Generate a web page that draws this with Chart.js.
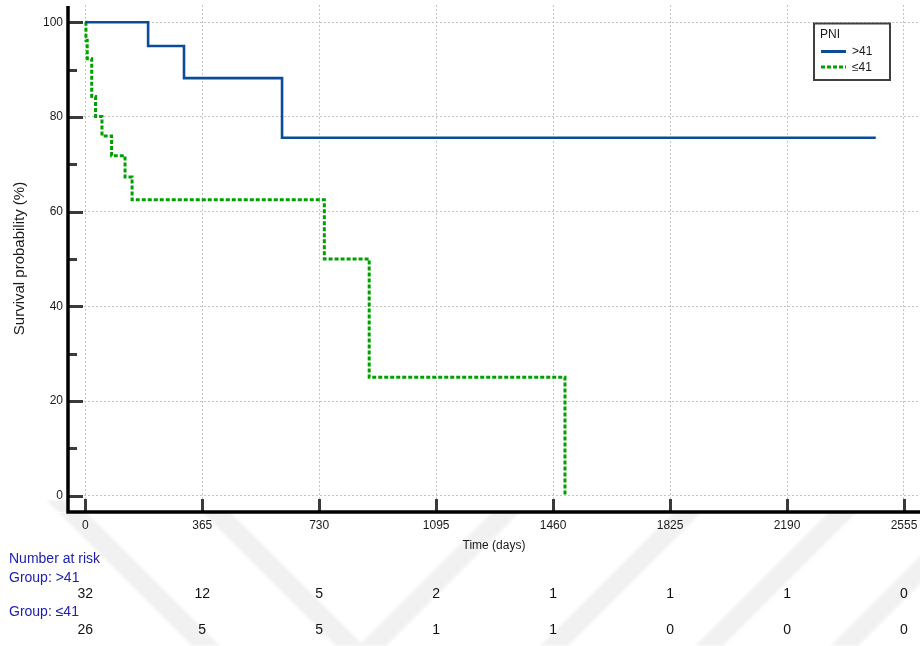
<!DOCTYPE html>
<html>
<head>
<meta charset="utf-8">
<title>Survival by PNI group</title>
<script src="https://cdn.jsdelivr.net/npm/chart.js@4/dist/chart.umd.min.js"></script>
<style>
  html, body { margin: 0; padding: 0; background: #ffffff; }
  #wrap { width: 920px; height: 646px; }
</style>
</head>
<body>
<div id="wrap"><canvas id="km" width="920" height="646"></canvas></div>
<script>
// Time axis ticks (days) and survival axis ticks (%)
const timeTicks = [0, 365, 730, 1095, 1460, 1825, 2190, 2555];
const survTicks = [0, 10, 20, 30, 40, 50, 60, 70, 80, 90, 100];

// Kaplan-Meier steps, PNI > 41
const highDays = [0, 196, 308, 614, 2467];
const highSurv = [100, 95.0, 88.2, 75.6, 75.6];

// Kaplan-Meier steps, PNI <= 41
const lowDays = [0, 2, 6, 20, 32, 52, 82, 124, 146, 746, 886, 1497];
const lowSurv = [100, 96.2, 92.3, 84.3, 80.1, 76.0, 71.8, 67.3, 62.5, 50.0, 25.0, 0];

// Number at risk at each time tick
const riskHigh = [32, 12, 5, 2, 1, 1, 1, 0];
const riskLow = [26, 5, 5, 1, 1, 0, 0, 0];

const groupNames = ['>41', '\u226441'];
const legendTitle = 'PNI';

const FONT = '"Liberation Sans", Arial, Helvetica, sans-serif';
const BLUE = '#0a4c98';
const GREEN = '#00a000';
const RISK_BLUE = '#2020b0';

const toPoints = (xs, ys) => xs.map((x, i) => ({ x: x, y: ys[i] }));

// Faint chevron pattern behind the lower margin
const backdropPlugin = {
  id: 'backdrop',
  beforeDraw(chart) {
    const ctx = chart.ctx;
    const ca = chart.chartArea;
    ctx.save();
    ctx.beginPath();
    ctx.rect(0, 500, ca.left - 2, ca.bottom - 500);
    ctx.rect(0, ca.bottom + 1, chart.width, chart.height - ca.bottom);
    ctx.clip();
    ctx.filter = 'blur(1.5px)';
    ctx.fillStyle = '#f1f1f1';
    const w = 28, top = 500, bot = 646, h = bot - top;
    [46, 190].forEach(x0 => {
      ctx.beginPath();
      ctx.moveTo(x0, top); ctx.lineTo(x0 + w, top);
      ctx.lineTo(x0 + w + h, bot); ctx.lineTo(x0 + h, bot);
      ctx.closePath(); ctx.fill();
    });
    [358, 540, 695, 830].forEach(x0 => {
      ctx.beginPath();
      ctx.moveTo(x0, bot); ctx.lineTo(x0 + w, bot);
      ctx.lineTo(x0 + w + h, top); ctx.lineTo(x0 + h, top);
      ctx.closePath(); ctx.fill();
    });
    ctx.restore();
  }
};

// Axis lines, inward tick marks, legend box and number-at-risk table
const decorPlugin = {
  id: 'decor',
  afterDraw(chart) {
    const ctx = chart.ctx;
    const ca = chart.chartArea;
    const xs = chart.scales.x;
    const ys = chart.scales.y;
    ctx.save();

    // inward tick marks
    ctx.strokeStyle = '#3a3a3a';
    ctx.lineWidth = 3;
    ctx.beginPath();
    survTicks.forEach(v => {
      const y = Math.round(ys.getPixelForValue(v)) + 0.5;
      const len = v % 20 === 0 ? 15 : 9;
      ctx.moveTo(ca.left, y);
      ctx.lineTo(ca.left + len, y);
    });
    timeTicks.forEach(v => {
      const x = Math.round(xs.getPixelForValue(v)) + 0.5;
      ctx.moveTo(x, ca.bottom);
      ctx.lineTo(x, ca.bottom - 13);
    });
    ctx.stroke();

    // axis lines
    ctx.strokeStyle = '#000000';
    ctx.lineWidth = 3.5;
    ctx.beginPath();
    ctx.moveTo(ca.left, ca.top + 1);
    ctx.lineTo(ca.left, ca.bottom + 1.5);
    ctx.moveTo(ca.left - 1.7, ca.bottom);
    ctx.lineTo(chart.width, ca.bottom);
    ctx.stroke();

    // legend
    const lx = 814, ly = 23.5, lw = 76, lh = 56.5;
    ctx.fillStyle = '#ffffff';
    ctx.fillRect(lx, ly, lw, lh);
    ctx.strokeStyle = '#404040';
    ctx.lineWidth = 2;
    ctx.strokeRect(lx, ly, lw, lh);
    ctx.font = '12px ' + FONT;
    ctx.fillStyle = '#1a1a1a';
    ctx.textAlign = 'left';
    ctx.textBaseline = 'middle';
    ctx.fillText(legendTitle, 820, 35);
    const rows = [
      { y: 51.5, color: BLUE, dash: [], width: 3, label: groupNames[0] },
      { y: 67, color: GREEN, dash: [4, 2], width: 3, label: groupNames[1] }
    ];
    rows.forEach(r => {
      ctx.beginPath();
      ctx.setLineDash(r.dash);
      ctx.strokeStyle = r.color;
      ctx.lineWidth = r.width;
      ctx.moveTo(821, r.y);
      ctx.lineTo(846, r.y);
      ctx.stroke();
      ctx.setLineDash([]);
      ctx.fillStyle = '#1a1a1a';
      ctx.fillText(r.label, 852, r.y + 0.5);
    });

    // number at risk
    ctx.font = '14px ' + FONT;
    ctx.fillStyle = RISK_BLUE;
    ctx.textAlign = 'left';
    ctx.fillText('Number at risk', 9, 559);
    ctx.fillText('Group: ' + groupNames[0], 9, 578);
    ctx.fillText('Group: ' + groupNames[1], 9, 612);
    ctx.fillStyle = '#111111';
    ctx.textAlign = 'center';
    timeTicks.forEach((t, i) => {
      const x = xs.getPixelForValue(t);
      ctx.fillText(String(riskHigh[i]), x, 594);
      ctx.fillText(String(riskLow[i]), x, 630);
    });

    ctx.restore();
  }
};

new Chart(document.getElementById('km'), {
  type: 'line',
  data: {
    datasets: [
      {
        label: groupNames[0],
        data: toPoints(highDays, highSurv),
        borderColor: BLUE,
        borderWidth: 2.6,
        stepped: 'before',
        pointRadius: 0,
        fill: false
      },
      {
        label: groupNames[1],
        data: toPoints(lowDays, lowSurv),
        borderColor: GREEN,
        borderWidth: 3,
        borderDash: [4, 2],
        stepped: 'before',
        pointRadius: 0,
        fill: false
      }
    ]
  },
  options: {
    responsive: false,
    animation: false,
    events: [],
    layout: { padding: { top: 5, right: 0, bottom: 0, left: 0 }, autoPadding: false },
    plugins: {
      legend: { display: false },
      tooltip: { enabled: false },
      title: { display: false }
    },
    scales: {
      x: {
        type: 'linear',
        min: -54,
        max: 2605,
        afterBuildTicks: s => { s.ticks = timeTicks.map(v => ({ value: v })); },
        afterFit: s => { s.height = 134; s.paddingLeft = 0; s.paddingRight = 0; },
        ticks: {
          autoSkip: false,
          maxRotation: 0,
          padding: 6,
          color: '#1a1a1a',
          font: { family: FONT, size: 12 },
          callback: v => String(v)
        },
        grid: { color: '#c4c4c4', lineWidth: 1, drawTicks: false },
        border: { display: false, dash: [2, 2] },
        title: {
          display: true,
          text: 'Time (days)',
          color: '#1a1a1a',
          font: { family: FONT, size: 12 },
          padding: { top: 0, bottom: 92.8 }
        }
      },
      y: {
        type: 'linear',
        min: -3.44,
        max: 103.65,
        afterBuildTicks: s => { s.ticks = survTicks.map(v => ({ value: v })); },
        afterFit: s => { s.width = 68; s.paddingTop = 0; s.paddingBottom = 0; },
        ticks: {
          autoSkip: false,
          padding: 5,
          color: '#1a1a1a',
          font: { family: FONT, size: 12 },
          callback: v => (v % 20 === 0 ? String(v) : '')
        },
        grid: {
          color: c => (c.tick && c.tick.value % 20 === 0 ? '#c4c4c4' : 'rgba(0,0,0,0)'),
          lineWidth: 1,
          drawTicks: false
        },
        border: { display: false, dash: [2, 2] },
        title: {
          display: true,
          text: 'Survival probability (%)',
          color: '#1a1a1a',
          font: { family: FONT, size: 15 },
          padding: { top: 11, bottom: 0 }
        }
      }
    }
  },
  plugins: [backdropPlugin, decorPlugin]
});
</script>
</body>
</html>
